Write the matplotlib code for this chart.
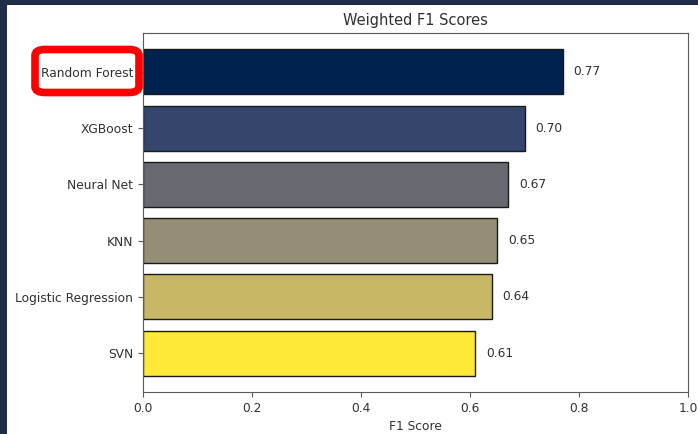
import matplotlib
matplotlib.use("Agg")
import matplotlib.pyplot as plt
from matplotlib.patches import Rectangle, FancyBboxPatch
import numpy as np

models = ["Random Forest", "XGBoost", "Neural Net", "KNN", "Logistic Regression", "SVN"]
f1_scores = [0.77, 0.70, 0.67, 0.65, 0.64, 0.61]
x_ticks = [0.0, 0.2, 0.4, 0.6, 0.8, 1.0]

W, H = 698, 434
TXT = "#303030"
fig = plt.figure(figsize=(W / 100, H / 100), dpi=100, facecolor="#1f2d4b")

# white panel inside the dark frame
fig.patches.append(Rectangle((7 / W, 0), 1 - 7 / W, 1 - 5 / H,
                             transform=fig.transFigure, facecolor="white",
                             edgecolor="none", zorder=-10))

ax = fig.add_axes([143 / W, 42 / H, (688 - 143) / W, (392 - 33) / H])

colors = plt.cm.cividis(np.linspace(0, 1, len(models)))
y = np.arange(len(models))
ax.barh(y, f1_scores, color=colors, edgecolor="#1a1a1a", height=0.8)
for yi, v in zip(y, f1_scores):
    ax.text(v + 0.02, yi, f"{v:.2f}", va="center", ha="left", fontsize=8.8, color=TXT)

ax.set_yticks(y)
ax.set_yticklabels(models, fontsize=8.8, color=TXT)
ax.invert_yaxis()
ax.set_xlim(0, 1)
ax.set_xticks(x_ticks)
ax.set_xticklabels([f"{t:.1f}" for t in x_ticks], fontsize=8.8, color=TXT)
ax.set_xlabel("F1 Score", fontsize=8.8, color=TXT)
ax.set_title("Weighted F1 Scores", fontsize=10.5, color=TXT)
for s in ax.spines.values():
    s.set_color("#5a5a5a")
ax.tick_params(colors="#5a5a5a", labelcolor=TXT)

# highlight box around the top label
fig.patches.append(FancyBboxPatch((35 / W, (H - 92.5) / H), (139 - 35) / W, (92.5 - 49.5) / H,
                                  boxstyle="round,pad=0,rounding_size=0.014",
                                  transform=fig.transFigure, facecolor="none",
                                  edgecolor="#ff0000", linewidth=5.5, zorder=5))

fig.savefig("out.png", dpi=100, facecolor=fig.get_facecolor())
